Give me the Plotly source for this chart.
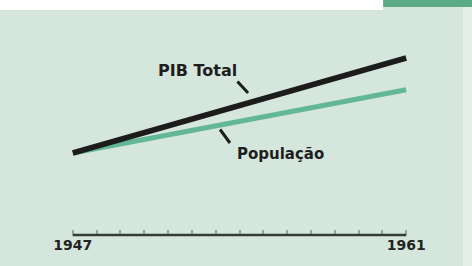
import plotly.graph_objects as go

YEARS = list(range(1947, 1962))
LINE_YEARS = [1947, 1961]
PIB_TOTAL = [100, 250]
POPULACAO = [100, 200]
END_LABELS = {1947: "<b>1947</b>", 1961: "<b>1961</b>"}

W, H = 472, 266
L, R, T, B = 49, 42, 10, 31
BG = "#d5e7dd"
TEAL = "#62b896"
DARK = "#1c1c1c"
FONT = "DejaVu Sans"

fig = go.Figure()
fig.add_trace(go.Scatter(x=LINE_YEARS, y=POPULACAO, mode="lines",
                         line=dict(color=TEAL, width=5), hoverinfo="skip"))
fig.add_trace(go.Scatter(x=LINE_YEARS, y=PIB_TOTAL, mode="lines",
                         line=dict(color=DARK, width=5.5), hoverinfo="skip"))

ticktext = [END_LABELS.get(y, "") for y in YEARS]

fig.update_layout(
    width=W, height=H,
    margin=dict(l=L, r=R, t=T, b=B, pad=0),
    paper_bgcolor=BG, plot_bgcolor=BG,
    showlegend=False,
    xaxis=dict(range=[1946, 1962], showgrid=False, zeroline=False, showline=False,
               tickvals=YEARS, ticktext=ticktext, ticks="inside", ticklen=5,
               tickwidth=2, tickcolor="#93a59b",
               tickfont=dict(family=FONT, size=14, color="#222222")),
    yaxis=dict(range=[-29.5, 325.8], visible=False),
    shapes=[
        dict(type="line", xref="x", yref="paper", x0=YEARS[0], x1=YEARS[-1], y0=0, y1=0,
             line=dict(color="#363b38", width=2.5)),
        dict(type="rect", xref="paper", yref="paper", x0=-0.2, x1=0.877, y0=1, y1=1.1,
             fillcolor="white", line=dict(width=0), layer="above"),
        dict(type="rect", xref="paper", yref="paper", x0=0.877, x1=1.2, y0=1.0133, y1=1.1,
             fillcolor="#5aaa86", line=dict(width=0), layer="above"),
        dict(type="rect", xref="paper", yref="paper", x0=1.0866, x1=1.2, y0=-0.2, y1=1.0133,
             fillcolor="#e6f0eb", line=dict(width=0), layer="below"),
    ],
    annotations=[
        dict(x=1952.22, y=231, text="<b>PIB Total</b>", showarrow=False,
             font=dict(family=FONT, size=16, color="#1e1e1e")),
        dict(x=1954.36, y=194.7, ax=-12, ay=-13, text="", showarrow=True,
             arrowhead=0, arrowwidth=3, arrowcolor="#1e1e1e"),
        dict(x=1955.74, y=99, text="<b>População</b>", showarrow=False,
             font=dict(family=FONT, size=15, color="#1e1e1e")),
        dict(x=1953.6, y=115.8, ax=-11, ay=-15, text="", showarrow=True,
             arrowhead=0, arrowwidth=3, arrowcolor="#1e1e1e"),
    ],
)

fig.write_html("out.html", config={"displayModeBar": False},
               post_script="document.body.style.margin='0';document.body.style.overflow='hidden';")
